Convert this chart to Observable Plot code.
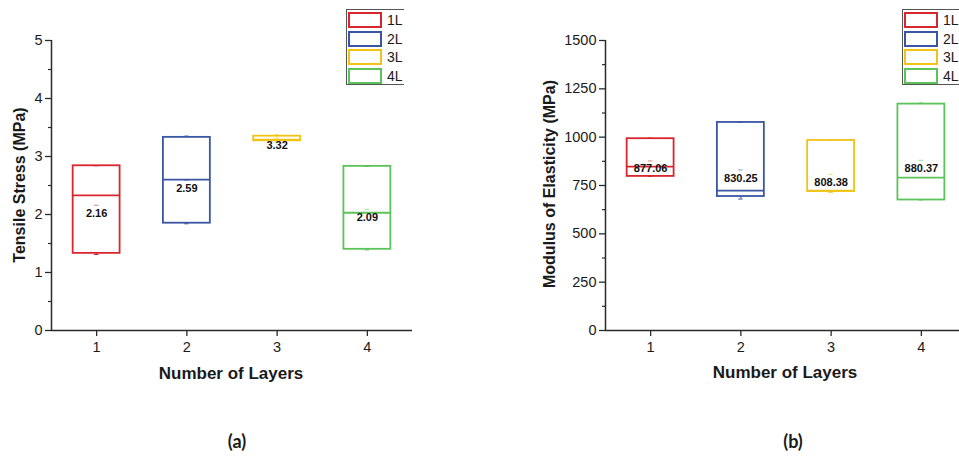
<!DOCTYPE html>
<html>
<head>
<meta charset="utf-8">
<script src="https://cdn.jsdelivr.net/npm/d3@7"></script>
<script src="https://cdn.jsdelivr.net/npm/@observablehq/plot@0.6"></script>
<style>
  html, body { margin: 0; padding: 0; background: #fff; }
  #fig { position: relative; width: 959px; height: 456px; overflow: hidden;
         font-family: "Liberation Sans", Arial, sans-serif; color: #1a1a1a; }
  .panel { position: absolute; top: 0; }
  .title { position: absolute; white-space: nowrap; font-weight: bold; transform: translate(-50%, -50%); }
  .title.vert { transform: translate(-50%, -50%) rotate(-90deg); }
  .cap { position: absolute; white-space: nowrap; font-family: Lato, "Open Sans", sans-serif;
         font-weight: bold; font-size: 18px; transform: translate(-50%, -50%); }
  .legend { position: absolute; top: 9px; height: 76px; box-sizing: border-box;
            border-top: 1.5px solid #555; border-bottom: 1.5px solid #555; border-left: 1.5px solid #555; }
  .legend .row { position: absolute; left: 1px; height: 16px; display: flex; align-items: center; }
  .legend .sw { width: 34px; height: 16px; box-sizing: border-box; border: 2px solid; }
  .legend .lab { margin-left: 5px; font-size: 14px; }
</style>
</head>
<body>
<div id="fig"></div>
<script>
// Groups (number of printed layers) and their legend entries
const layers = [1, 2, 3, 4];
const groupLabels = ["1L", "2L", "3L", "4L"];
const groupColors = ["#d7262d", "#3a55a4", "#f1c317", "#5cc25a"];

// (a) Tensile stress, MPa
const tsQ1 = [1.33, 1.85, 3.27, 1.40];
const tsQ3 = [2.84, 3.33, 3.35, 2.83];
const tsMedian = [2.33, 2.60, 3.29, 2.03];
const tsMean = [2.16, 2.59, 3.32, 2.09];
const tsMin = [1.31, 1.84, 3.27, 1.39];
const tsMax = [2.84, 3.35, 3.37, 2.83];
const tsTicks = [0, 1, 2, 3, 4, 5];
const tsMinorTicks = [0.5, 1.5, 2.5, 3.5, 4.5];

// (b) Modulus of elasticity, MPa
const meQ1 = [797, 693, 719, 675];
const meQ3 = [992, 1076, 983, 1171];
const meMedian = [848, 724, 724, 791];
const meMean = [877.06, 830.25, 808.38, 880.37];
const meMin = [797, 680, 715, 675];
const meMax = [995, 1078, 985, 1176];
const meTicks = [0, 250, 500, 750, 1000, 1250, 1500];
const meMinorTicks = [125, 375, 625, 875, 1125, 1375];

const xTitle = "Number of Layers";

function rowsFrom(q1, q3, med, mean, lo, hi) {
  return layers.map((layer, i) => ({
    layer, group: groupLabels[i], q1: q1[i], q3: q3[i],
    median: med[i], mean: mean[i], lo: lo[i], hi: hi[i]
  }));
}

const half = 0.26;   // half box width in layer units
const cap = 0.025;   // half width of the small whisker/mean markers
const intFormat = d3.format("d");

function boxPanel({rows, yMax, ticks, minor, width, marginLeft, marginRight}) {
  return Plot.plot({
    width, height: 456,
    marginLeft, marginRight, marginTop: 40, marginBottom: 126,
    x: {domain: [0.5, 4.5]},
    y: {domain: [0, yMax]},
    color: {domain: groupLabels, range: groupColors},
    style: {fontFamily: "Liberation Sans, Arial, sans-serif", fontSize: "14px", color: "#1a1a1a", background: "transparent"},
    marks: [
      // axis lines
      Plot.ruleX([0.5], {stroke: "#2a2a2a", strokeWidth: 1.5}),
      Plot.ruleY([0], {stroke: "#2a2a2a", strokeWidth: 1.5}),
      Plot.axisY({ticks, tickFormat: intFormat, tickSize: 6, tickPadding: 3, label: null, fontSize: 14.5,
                  stroke: "#2a2a2a", strokeWidth: 1.3}),
      Plot.axisY({ticks: minor, tickSize: 3, tickFormat: () => "", label: null, stroke: "#2a2a2a", strokeWidth: 1.2}),
      Plot.axisX({ticks: layers, tickFormat: intFormat, tickSize: 6, tickPadding: 5, label: null, fontSize: 14.5,
                  stroke: "#2a2a2a", strokeWidth: 1.3}),
      // whiskers
      Plot.ruleX(rows, {x: "layer", y1: "q3", y2: "hi", stroke: "group", strokeWidth: 1}),
      Plot.ruleX(rows, {x: "layer", y1: "lo", y2: "q1", stroke: "group", strokeWidth: 1}),
      Plot.ruleY(rows, {y: "hi", x1: d => d.layer - cap, x2: d => d.layer + cap, stroke: "group", strokeWidth: 1}),
      Plot.ruleY(rows, {y: "lo", x1: d => d.layer - cap, x2: d => d.layer + cap, stroke: "group", strokeWidth: 1}),
      // boxes and medians
      Plot.rect(rows, {x1: d => d.layer - half, x2: d => d.layer + half, y1: "q1", y2: "q3",
                       fill: "none", stroke: "group", strokeWidth: 1.8}),
      Plot.ruleY(rows, {y: "median", x1: d => d.layer - half, x2: d => d.layer + half, stroke: "group", strokeWidth: 1.8}),
      // mean markers and labels
      Plot.ruleY(rows, {y: "mean", x1: d => d.layer - cap, x2: d => d.layer + cap, stroke: "group", strokeWidth: 1, strokeOpacity: 0.6}),
      Plot.text(rows, {x: "layer", y: "mean", text: d => d.mean.toFixed(2), dy: 8,
                       fontSize: 11, fontWeight: "bold", fill: "#111"})
    ]
  });
}

const fig = document.getElementById("fig");

function place(node, left, width) {
  node.classList.add("panel");
  node.style.left = left + "px";
  node.style.width = width + "px";
  fig.appendChild(node);
}

place(boxPanel({
  rows: rowsFrom(tsQ1, tsQ3, tsMedian, tsMean, tsMin, tsMax),
  yMax: 5, ticks: tsTicks, minor: tsMinorTicks,
  width: 480, marginLeft: 51, marginRight: 68
}), 0, 480);

place(boxPanel({
  rows: rowsFrom(meQ1, meQ3, meMedian, meMean, meMin, meMax),
  yMax: 1500, ticks: meTicks, minor: meMinorTicks,
  width: 486, marginLeft: 125, marginRight: 0
}), 480, 486);

function label(text, cx, cy, cls, size) {
  const el = document.createElement("div");
  el.className = cls;
  el.textContent = text;
  el.style.left = cx + "px";
  el.style.top = cy + "px";
  if (size) el.style.fontSize = size + "px";
  fig.appendChild(el);
}

label("Tensile Stress (MPa)", 20, 185, "title vert", 16);
label("Modulus of Elasticity (MPa)", 550, 184, "title vert", 16);
label(xTitle, 231, 374, "title", 17);
label(xTitle, 785, 373, "title", 17);
label("(a)", 237, 441, "cap");
label("(b)", 793, 441, "cap");

function legend(left, width) {
  const box = document.createElement("div");
  box.className = "legend";
  box.style.left = left + "px";
  box.style.width = width + "px";
  groupLabels.forEach((g, i) => {
    const row = document.createElement("div");
    row.className = "row";
    row.style.top = (2 + i * 18.5) + "px";
    const sw = document.createElement("div");
    sw.className = "sw";
    sw.style.borderColor = groupColors[i];
    const lab = document.createElement("span");
    lab.className = "lab";
    lab.textContent = g;
    row.append(sw, lab);
    box.appendChild(row);
  });
  fig.appendChild(box);
}

legend(346, 58);
legend(902, 57);
</script>
</body>
</html>
